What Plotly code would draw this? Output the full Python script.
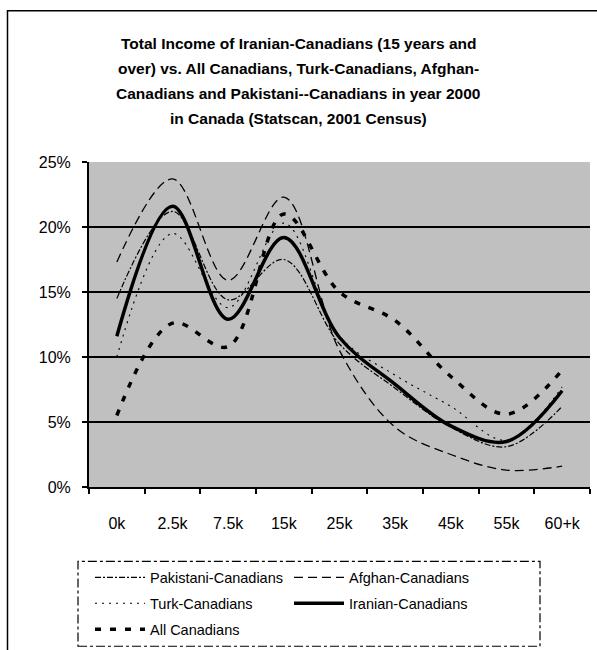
import plotly.graph_objects as go

categories = ["0k", "2.5k", "7.5k", "15k", "25k", "35k", "45k", "55k", "60+k"]
pakistani = [14.5, 21.2, 14.4, 17.5, 11.0, 7.6, 4.6, 3.1, 6.2]
afghan = [17.3, 23.7, 15.9, 22.3, 10.5, 4.6, 2.5, 1.3, 1.6]
turk = [10.0, 19.5, 13.8, 20.3, 11.6, 8.6, 6.2, 3.6, 7.7]
iranian = [11.6, 21.6, 12.9, 19.2, 11.5, 7.9, 4.7, 3.5, 7.4]
all_canadians = [5.5, 12.6, 10.8, 21.0, 15.0, 12.8, 8.5, 5.6, 9.0]

title_lines = [
    "Total Income of Iranian-Canadians (15 years and",
    "over) vs. All Canadians, Turk-Canadians, Afghan-",
    "Canadians and Pakistani--Canadians in year 2000",
    "in Canada (Statscan, 2001 Census)",
]
y_ticks = [0, 5, 10, 15, 20, 25]

W, H = 597, 650
L, R, T, B = 89, 590, 162, 487.5
PW, PH = R - L, B - T

def px_x(p):
    return (p - L) / PW

def px_y(p):
    return (B - p) / PH

FONT = "Liberation Sans, Arial, sans-serif"

series = [
    ("Pakistani-Canadians", pakistani, dict(color="black", width=1.2, dash="6px,2px,2px,2px"), "legend"),
    ("Afghan-Canadians", afghan, dict(color="black", width=1.3, dash="9px,5px"), "legend"),
    ("Turk-Canadians", turk, dict(color="black", width=1.1, dash="2px,5px"), "legend2"),
    ("Iranian-Canadians", iranian, dict(color="black", width=3.5), "legend2"),
    ("All Canadians", all_canadians, dict(color="black", width=3.5, dash="6px,9px"), "legend3"),
]

fig = go.Figure()
for name, vals, line, lg in series:
    fig.add_trace(go.Scatter(
        x=categories, y=vals, name=name, mode="lines", legend=lg,
        line=dict(shape="spline", smoothing=1.0, **line),
    ))

shapes = [
    dict(type="rect", xref="paper", yref="paper",
         x0=px_x(7.5), x1=px_x(620), y0=px_y(690), y1=px_y(10.5),
         line=dict(color="black", width=1.5), layer="below"),
    dict(type="rect", xref="paper", yref="paper",
         x0=px_x(78), x1=px_x(540), y0=px_y(647), y1=px_y(562),
         line=dict(color="black", width=1.2, dash="dashdot")),
]

annotations = []
for i, t in enumerate(title_lines):
    annotations.append(dict(
        text="<b>" + t + "</b>", xref="paper", yref="paper",
        x=px_x(298), y=px_y(43 + i * 25), xanchor="center", yanchor="middle",
        showarrow=False, font=dict(family=FONT, size=15.5, color="black"),
    ))

LEG_FONT = dict(family=FONT, size=14.5, color="black")

def leg(row_y):
    return dict(
        orientation="h", x=px_x(90), y=px_y(row_y), xanchor="left", yanchor="middle",
        entrywidth=134, entrywidthmode="pixels", itemwidth=50,
        bgcolor="rgba(0,0,0,0)", borderwidth=0, font=LEG_FONT, traceorder="normal",
    )

fig.update_layout(
    width=W, height=H,
    margin=dict(l=L, r=W - R, t=T, b=H - B, autoexpand=False),
    paper_bgcolor="white", plot_bgcolor="#C0C0C0",
    font=dict(family=FONT, size=16, color="black"),
    showlegend=True,
    legend=leg(578), legend2=leg(604), legend3=leg(630),
    shapes=shapes,
    annotations=annotations,
)

fig.update_xaxes(
    type="category", categoryorder="array", categoryarray=categories,
    range=[-0.5, len(categories) - 0.5],
    tickson="boundaries", ticks="outside", ticklen=5, tickwidth=1.5, tickcolor="black",
    showline=True, linecolor="black", linewidth=2,
    showgrid=False, ticklabelstandoff=21,
    tickfont=dict(family=FONT, size=16, color="black"),
)
fig.update_yaxes(
    range=[0, 25], tickvals=y_ticks, ticktext=[f"{v}%" for v in y_ticks],
    ticks="outside", ticklen=5, tickwidth=1.5, tickcolor="black",
    showline=True, linecolor="black", linewidth=2,
    showgrid=True, gridcolor="black", gridwidth=1.6, zeroline=False,
    ticklabelstandoff=8,
    tickfont=dict(family=FONT, size=16, color="black"),
)

fig.write_html(
    "out.html",
    config={"displayModeBar": False},
    post_script="document.body.style.margin='0';",
)
